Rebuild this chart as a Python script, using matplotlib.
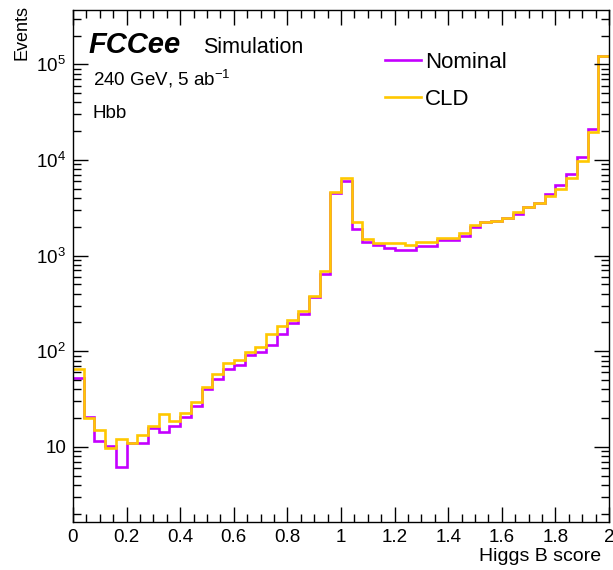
import numpy as np
import matplotlib
matplotlib.use("Agg")
import matplotlib.pyplot as plt
from matplotlib.ticker import FixedLocator, LogLocator, FuncFormatter, MultipleLocator, NullFormatter

plt.rcParams['font.family'] = ['Liberation Sans', 'DejaVu Sans']
plt.rcParams['mathtext.fontset'] = 'custom'
plt.rcParams['mathtext.rm'] = 'Liberation Sans'
plt.rcParams['mathtext.it'] = 'Liberation Sans:italic'
plt.rcParams['mathtext.bf'] = 'Liberation Sans:bold'

# ---- data ----
x_min, x_max, n_bins = 0.0, 2.0, 50
nominal = [53, 20.5, 11.6, 10.2, 6.1, 10.9, 11, 15.7, 14.4, 16.6,
           20.4, 26.7, 40.8, 51.9, 64.5, 71.5, 90.8, 98.5, 115, 153,
           197, 247, 368, 645, 4570, 6030, 1920, 1380, 1290, 1200,
           1150, 1150, 1270, 1270, 1450, 1450, 1620, 1970, 2250, 2300,
           2500, 2720, 3190, 3590, 4460, 5490, 7100, 10700, 21200, 121000]
cld = [65, 20, 15, 9.7, 12.1, 11.1, 13.3, 16.6, 22, 18.8,
       22.7, 29.6, 41.9, 57.5, 74.5, 82, 98.5, 111, 153, 182,
       210, 263, 374, 698, 4680, 6550, 2220, 1490, 1340, 1340,
       1340, 1300, 1400, 1400, 1530, 1530, 1720, 2100, 2270, 2300,
       2500, 2830, 3190, 3590, 4220, 5020, 6550, 9770, 19600, 121000]
series_labels = ["Nominal", "CLD"]
x_ticks = [0, 0.2, 0.4, 0.6, 0.8, 1.0, 1.2, 1.4, 1.6, 1.8, 2.0]
y_ticks = [10, 100, 1000, 10000, 100000]
y_range = (1.64, 3.7e5)

edges = np.linspace(x_min, x_max, n_bins + 1)

fig = plt.figure(figsize=(6.13, 5.70), dpi=100)
ax = fig.add_axes([73/613, 48/570, 536/613, 512/570])

c_nom = '#C400FF'
c_cld = '#FFC800'
ax.stairs(nominal, edges, baseline=None, color=c_nom, lw=1.9, label=series_labels[0])
ax.stairs(cld, edges, baseline=None, color=c_cld, lw=1.9, label=series_labels[1])

ax.set_yscale('log')
ax.set_xlim(x_min, x_max)
ax.set_ylim(*y_range)

ax.xaxis.set_major_locator(FixedLocator(x_ticks))
ax.xaxis.set_minor_locator(MultipleLocator(0.05))
ax.xaxis.set_major_formatter(FuncFormatter(lambda v, p: f"{v:g}"))
ax.yaxis.set_major_locator(FixedLocator(y_ticks))
ax.yaxis.set_minor_locator(LogLocator(base=10, subs=np.arange(2, 10)))
ax.yaxis.set_minor_formatter(NullFormatter())

def yfmt(v, p):
    e = int(round(np.log10(v)))
    return "10" if e == 1 else r"$10^{%d}$" % e
ax.yaxis.set_major_formatter(FuncFormatter(yfmt))

ax.tick_params(which='both', direction='in', top=True, right=True, width=1.0, colors='black')
ax.tick_params(which='major', length=11, labelsize=13.5, pad=5)
ax.tick_params(which='minor', length=5.5)
for s in ax.spines.values():
    s.set_linewidth(1.0)

ax.set_xlabel("Higgs B score", fontsize=14, loc='right')
ax.xaxis.set_label_coords(0.985, -0.05)
ax.set_ylabel("Events", fontsize=13, loc='top')
ax.yaxis.set_label_coords(-0.080, 1.01)

ax.text(0.028, 0.916, "FCCee", transform=ax.transAxes, fontsize=21,
        fontweight='bold', fontstyle='italic', ha='left', va='baseline')
ax.text(0.2425, 0.916, "Simulation", transform=ax.transAxes, fontsize=15.5,
        ha='left', va='baseline')
ax.text(0.037, 0.853, r"240 GeV, 5 ab$^{-1}$", transform=ax.transAxes, fontsize=13.5,
        ha='left', va='baseline')
ax.text(0.037, 0.789, "Hbb", transform=ax.transAxes, fontsize=13.5,
        ha='left', va='baseline')

ax.legend(loc='upper left', bbox_to_anchor=(0.582, 0.918), frameon=False,
          fontsize=16, handlelength=1.6, handletextpad=0.2, labelspacing=0.72,
          borderpad=0, borderaxespad=0)

fig.savefig("out.png", dpi=100)
